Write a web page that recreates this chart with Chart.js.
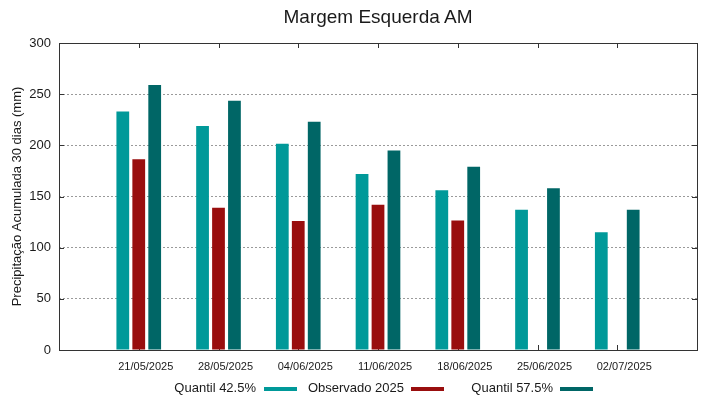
<!DOCTYPE html>
<html lang="pt-BR">
<head>
<meta charset="utf-8">
<title>Margem Esquerda AM</title>
<script src="https://cdn.jsdelivr.net/npm/chart.js@4.4.1/dist/chart.umd.min.js"></script>
<style>
    html, body {
        margin: 0;
        padding: 0;
        background: #ffffff;
    }
    .wrap {
        position: relative;
        width: 719px;
        height: 399px;
        font-family: "Liberation Sans", Arial, sans-serif;
        color: #1a1a1a;
    }
    #chartCanvas {
        position: absolute;
        left: 0;
        top: 0;
    }
    .title {
        position: absolute;
        left: 59px;
        width: 638px;
        top: 7px;
        text-align: center;
        font-size: 19px;
        line-height: 19px;
    }
    .key-text {
        position: absolute;
        top: 381px;
        font-size: 13px;
        line-height: 13px;
        text-align: right;
        white-space: nowrap;
    }
    .key-swatch {
        position: absolute;
        top: 387px;
        width: 33px;
        height: 4px;
    }
</style>
</head>
<body>
<div class="wrap">
    <canvas id="chartCanvas" width="719" height="399"></canvas>
    <div class="title">Margem Esquerda AM</div>
    <div id="key"></div>
</div>
<script>
// Chart data
const dates = ['21/05/2025', '28/05/2025', '04/06/2025', '11/06/2025', '18/06/2025', '25/06/2025', '02/07/2025'];
const quantil425 = [233, 219, 201.5, 172, 156, 137, 115];
const observado2025 = [186.5, 139, 126, 142, 126.5, null, null];
const quantil575 = [259, 243.5, 223, 195, 179, 158, 137];
const yTicks = [0, 50, 100, 150, 200, 250, 300];

const seriesNames = ['Quantil 42.5%', 'Observado 2025', 'Quantil 57.5%'];
const seriesColors = ['#009999', '#990e0e', '#006666'];

// the key is right-justified text followed by a line sample, like gnuplot
const keyTextRight = [256, 404, 553];
const keySwatchLeft = [264, 411, 560];

// blank slots on both ends leave half an interval of room around the groups
const padEnds = (arr) => [null, ...arr, null];
const labels = ['', ...dates, ''];

function buildKey() {
    const key = document.getElementById('key');
    seriesNames.forEach((name, i) => {
        const text = document.createElement('div');
        text.className = 'key-text';
        text.textContent = name;
        text.style.right = (719 - keyTextRight[i]) + 'px';
        key.appendChild(text);

        const swatch = document.createElement('div');
        swatch.className = 'key-swatch';
        swatch.style.left = keySwatchLeft[i] + 'px';
        swatch.style.background = seriesColors[i];
        key.appendChild(swatch);
    });
}

// frame and inward tick marks
const framePlugin = {
    id: 'frame',
    beforeDatasetsDraw(chart) {
        const { ctx, chartArea, scales } = chart;
        ctx.save();
        ctx.strokeStyle = '#333333';
        ctx.lineWidth = 1;
        ctx.beginPath();
        yTicks.slice(1, -1).forEach((v) => {
            const y = Math.round(scales.y.getPixelForValue(v)) + 0.5;
            ctx.moveTo(chartArea.left, y);
            ctx.lineTo(chartArea.left + 5, y);
            ctx.moveTo(chartArea.right, y);
            ctx.lineTo(chartArea.right - 5, y);
        });
        dates.forEach((d, i) => {
            const x = Math.round(scales.x.getPixelForValue(i + 1)) + 0.5;
            ctx.moveTo(x, chartArea.top);
            ctx.lineTo(x, chartArea.top + 5);
            ctx.moveTo(x, chartArea.bottom);
            ctx.lineTo(x, chartArea.bottom - 5);
        });
        ctx.stroke();
        ctx.restore();
    },
    afterDraw(chart) {
        const { ctx, chartArea } = chart;
        ctx.save();
        ctx.strokeStyle = '#333333';
        ctx.lineWidth = 1;
        ctx.strokeRect(
            Math.round(chartArea.left) + 0.5,
            Math.round(chartArea.top) + 0.5,
            Math.round(chartArea.right - chartArea.left),
            Math.round(chartArea.bottom - chartArea.top)
        );
        ctx.restore();
    }
};

function createChart() {
    const ctx = document.getElementById('chartCanvas').getContext('2d');
    const values = [quantil425, observado2025, quantil575];

    return new Chart(ctx, {
        type: 'bar',
        data: {
            labels: labels,
            datasets: values.map((vals, i) => ({
                label: seriesNames[i],
                data: padEnds(vals),
                backgroundColor: seriesColors[i],
                borderWidth: 0,
                categoryPercentage: 0.6,
                barPercentage: 0.8
            }))
        },
        options: {
            responsive: false,
            animation: false,
            devicePixelRatio: 1,
            layout: {
                padding: { left: 0, right: 22, top: 43, bottom: 0 }
            },
            plugins: {
                legend: { display: false },
                title: { display: false },
                tooltip: { enabled: false }
            },
            scales: {
                x: {
                    type: 'category',
                    offset: false,
                    grid: { display: false, drawTicks: false },
                    border: { display: false },
                    ticks: {
                        autoSkip: false,
                        maxRotation: 0,
                        labelOffset: 7,
                        padding: 10,
                        color: '#1a1a1a',
                        font: { family: '"Liberation Sans", Arial, sans-serif', size: 11 }
                    },
                    afterFit: (scale) => {
                        scale.height = 49;
                    }
                },
                y: {
                    min: 0,
                    max: 300,
                    grid: {
                        color: '#9a9a9a',
                        lineWidth: 1,
                        drawTicks: false
                    },
                    border: { display: false, dash: [2, 2] },
                    ticks: {
                        stepSize: 50,
                        padding: 8,
                        color: '#1a1a1a',
                        font: { family: '"Liberation Sans", Arial, sans-serif', size: 13 }
                    },
                    title: {
                        display: true,
                        text: 'Precipitação Acumulada 30 dias (mm)',
                        color: '#1a1a1a',
                        padding: { top: 10, bottom: 0 },
                        font: { family: '"Liberation Sans", Arial, sans-serif', size: 13 }
                    },
                    afterFit: (scale) => {
                        scale.width = 59;
                    }
                }
            }
        },
        plugins: [framePlugin]
    });
}

document.addEventListener('DOMContentLoaded', () => {
    buildKey();
    createChart();
});
</script>
</body>
</html>
